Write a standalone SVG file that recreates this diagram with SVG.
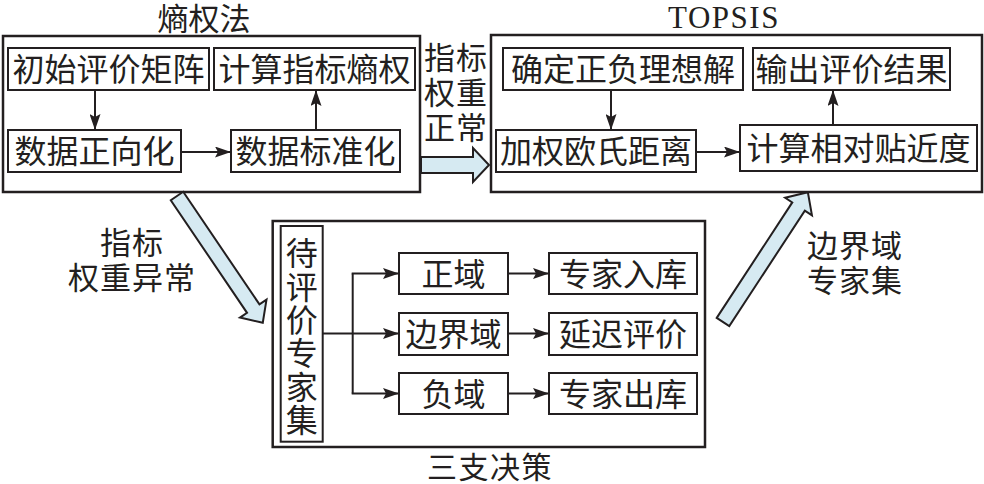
<svg xmlns="http://www.w3.org/2000/svg" width="984" height="484" viewBox="0 0 984 484">
<style>
.outer{fill:none;stroke:#231f20;stroke-width:2.5}
.box{fill:#fff;stroke:#231f20;stroke-width:2}
.t{font-family:"Liberation Sans","Noto Sans CJK SC",sans-serif;font-size:32px;fill:#231f20;text-anchor:middle}
.lb{font-size:31px;letter-spacing:1px}
.en{font-family:"Liberation Serif",serif;font-size:31px;fill:#231f20;text-anchor:middle;letter-spacing:1.5px}
.ln{fill:none;stroke:#231f20;stroke-width:2}
.big{fill:#d6eaf2;stroke:#231f20;stroke-width:2;stroke-linejoin:miter}
</style>
<defs>
<marker id="ah" markerUnits="userSpaceOnUse" markerWidth="16" markerHeight="11" refX="16" refY="5.5" orient="auto">
<path d="M0,0 L16,5.5 L0,11 L3,5.5 Z" fill="#231f20"/>
</marker>
</defs>
<rect width="984" height="484" fill="#fff"/>

<g id="entropy">
<rect class="outer" x="3" y="36" width="417" height="156"/>
<text class="t" x="204" y="29.5" style="font-size:31px">熵权法</text>
</g>
<g id="topsis">
<rect class="outer" x="491" y="35" width="491" height="157"/>
<text class="en" x="724" y="28">TOPSIS</text>
</g>
<g id="twd">
<rect class="outer" x="272.7" y="221" width="432.3" height="226"/>
<text class="t" x="490" y="477.5" style="font-size:30px;letter-spacing:1.5px">三支决策</text>
</g>

<g id="n1"><rect class="box" x="8" y="48" width="201" height="42"/><text class="t" x="108.5" y="81">初始评价矩阵</text></g>
<g id="n2"><rect class="box" x="214" y="48" width="201" height="42"/><text class="t" x="314.5" y="81">计算指标熵权</text></g>
<g id="n3"><rect class="box" x="8" y="130" width="173" height="42"/><text class="t" x="94.5" y="163">数据正向化</text></g>
<g id="n4"><rect class="box" x="231" y="130" width="169" height="42"/><text class="t" x="315.5" y="163">数据标准化</text></g>

<g id="n5"><rect class="box" x="503" y="48" width="240" height="42"/><text class="t" x="623" y="81">确定正负理想解</text></g>
<g id="n6"><rect class="box" x="753" y="48" width="197" height="42"/><text class="t" x="851.5" y="81">输出评价结果</text></g>
<g id="n7"><rect class="box" x="496" y="130" width="200" height="42"/><text class="t" x="596" y="163">加权欧氏距离</text></g>
<g id="n8"><rect class="box" x="740" y="125" width="237" height="46"/><text class="t" x="858.5" y="160">计算相对贴近度</text></g>

<g id="n9"><rect class="box" x="280.7" y="226" width="42" height="215.7"/>
<text x="301.7" y="237" writing-mode="vertical-rl" style="font-family:'Noto Sans CJK SC','Noto Sans',sans-serif;font-size:32px;fill:#231f20;letter-spacing:1.4px">待评价专家集</text></g>
<g id="n10"><rect class="box" x="399" y="253" width="109" height="41"/><text class="t" x="453.5" y="285.5">正域</text></g>
<g id="n11"><rect class="box" x="399" y="313" width="109" height="42"/><text class="t" x="453.5" y="346">边界域</text></g>
<g id="n12"><rect class="box" x="399" y="373" width="109" height="41"/><text class="t" x="453.5" y="405.5">负域</text></g>
<g id="n13"><rect class="box" x="549" y="253" width="148" height="41"/><text class="t" x="623" y="285.5">专家入库</text></g>
<g id="n14"><rect class="box" x="549" y="313" width="148" height="42"/><text class="t" x="623" y="346">延迟评价</text></g>
<g id="n15"><rect class="box" x="549" y="373" width="148" height="41"/><text class="t" x="623" y="405.5">专家出库</text></g>

<g id="connectors">
<line class="ln" x1="95" y1="90" x2="95" y2="130" marker-end="url(#ah)"/>
<line class="ln" x1="181" y1="152" x2="231" y2="152" marker-end="url(#ah)"/>
<line class="ln" x1="316" y1="130" x2="316" y2="90" marker-end="url(#ah)"/>
<line class="ln" x1="611" y1="90" x2="611" y2="130" marker-end="url(#ah)"/>
<line class="ln" x1="696" y1="152" x2="740" y2="152" marker-end="url(#ah)"/>
<line class="ln" x1="833" y1="125" x2="833" y2="90" marker-end="url(#ah)"/>
<line class="ln" x1="322.7" y1="333.5" x2="352.7" y2="333.5"/>
<line class="ln" x1="352.7" y1="273.5" x2="352.7" y2="393.5"/>
<line class="ln" x1="351.7" y1="273.5" x2="399" y2="273.5" marker-end="url(#ah)"/>
<line class="ln" x1="352.7" y1="333.5" x2="399" y2="333.5" marker-end="url(#ah)"/>
<line class="ln" x1="351.7" y1="393.5" x2="399" y2="393.5" marker-end="url(#ah)"/>
<line class="ln" x1="508" y1="273.5" x2="549" y2="273.5" marker-end="url(#ah)"/>
<line class="ln" x1="508" y1="333.5" x2="549" y2="333.5" marker-end="url(#ah)"/>
<line class="ln" x1="508" y1="393.5" x2="549" y2="393.5" marker-end="url(#ah)"/>
<path class="big" d="M421,157 L473,157 L473,148 L489,165 L473,182 L473,173 L421,173 Z"/>
<path class="big" transform="translate(177,196) rotate(55.9)" d="M0,-7.5 L136,-7.5 L136,-16 L153,0 L136,16 L136,7.5 L0,7.5 Z"/>
<path class="big" transform="translate(723,322) rotate(-56.8)" d="M0,-7.5 L138,-7.5 L138,-16 L155,0 L138,16 L138,7.5 L0,7.5 Z"/>
</g>

<g id="labels">
<text class="t lb" x="456" y="69">指标</text>
<text class="t lb" x="456" y="104">权重</text>
<text class="t lb" x="456" y="139">正常</text>
<text class="t lb" x="132" y="254">指标</text>
<text class="t lb" x="132" y="289">权重异常</text>
<text class="t lb" x="855" y="257">边界域</text>
<text class="t lb" x="855" y="292">专家集</text>
</g>
</svg>
